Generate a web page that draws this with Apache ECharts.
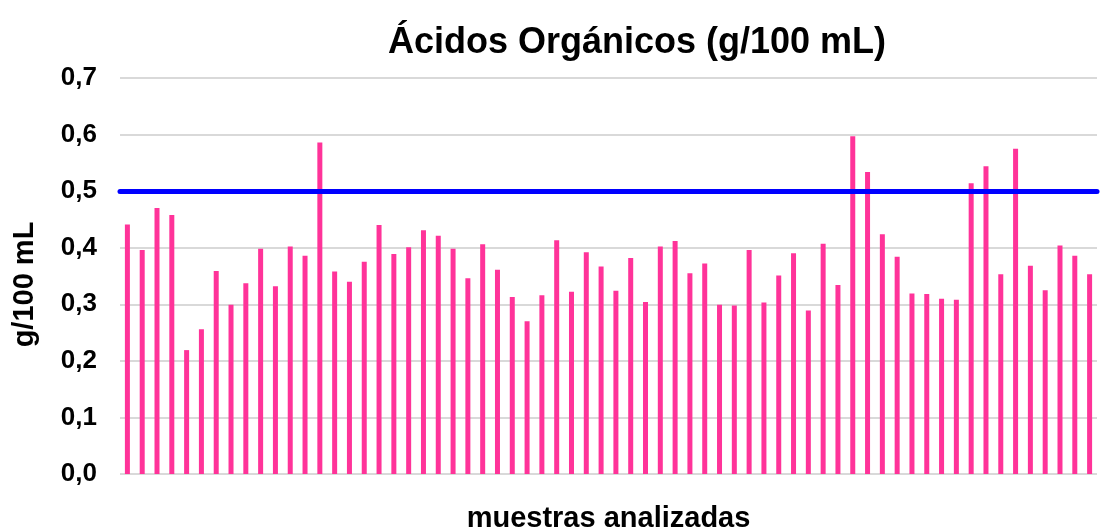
<!DOCTYPE html>
<html>
<head>
<meta charset="utf-8">
<script src="https://cdn.jsdelivr.net/npm/echarts@6/dist/echarts.min.js"></script>
<style>
  html, body { margin: 0; padding: 0; background: #fff; }
  #chart { width: 1100px; height: 531px; }
</style>
</head>
<body>
<div id="chart"></div>
<script>
// valores (g/100 mL), una barra por muestra
let acidos = [
    0.441, 0.396, 0.470, 0.458, 0.219, 0.256, 0.359, 0.299, 0.337, 0.398,
    0.332, 0.402, 0.386, 0.586, 0.358, 0.340, 0.375, 0.440, 0.389, 0.401,
    0.431, 0.421, 0.398, 0.346, 0.406, 0.361, 0.313, 0.270, 0.316, 0.413,
    0.322, 0.392, 0.367, 0.324, 0.382, 0.304, 0.402, 0.412, 0.355, 0.372,
    0.299, 0.298, 0.396, 0.303, 0.351, 0.390, 0.289, 0.407, 0.334, 0.597,
    0.534, 0.424, 0.384, 0.319, 0.318, 0.310, 0.308, 0.514, 0.544, 0.353,
    0.575, 0.368, 0.325, 0.404, 0.386, 0.353
];
let muestras = acidos.map((v, i) => 'M' + (i + 1));
let limite = 0.5;

let fuente = 'Liberation Sans, Arial';

let chart = echarts.init(document.getElementById('chart'));
let option = {
    animation: false,
    title: {
        text: 'Ácidos Orgánicos (g/100 mL)',
        left: 632,
        top: 20,
        textAlign: 'center',
        textStyle: {
            fontFamily: fuente,
            fontSize: 36,
            fontWeight: 'bold',
            color: '#000'
        }
    },
    grid: { left: 120, right: 3, top: 78, bottom: 57, outerBoundsMode: 'none' },
    xAxis: {
        type: 'category',
        data: muestras,
        name: 'muestras analizadas',
        nameLocation: 'middle',
        nameGap: 30,
        nameTextStyle: {
            fontFamily: fuente,
            fontSize: 29,
            fontWeight: 'bold',
            color: '#000'
        },
        axisLine: { show: false },
        axisTick: { show: false },
        axisLabel: { show: false }
    },
    yAxis: {
        type: 'value',
        min: 0,
        max: 0.7,
        interval: 0.1,
        name: 'g/100 mL',
        nameLocation: 'middle',
        nameGap: 81,
        nameTextStyle: {
            fontFamily: fuente,
            fontSize: 29,
            fontWeight: 'bold',
            color: '#000',
            padding: [0, 17, 0, 0]
        },
        axisLabel: {
            fontFamily: fuente,
            fontSize: 26,
            fontWeight: 'bold',
            color: '#000',
            margin: 23,
            formatter: v => v.toFixed(1).replace('.', ',')
        },
        splitLine: { lineStyle: { color: '#d9d9d9', width: 2 } }
    },
    series: [
        {
            type: 'bar',
            data: acidos,
            barWidth: 5,
            itemStyle: { color: '#ff3399' },
            markLine: {
                silent: true,
                symbol: 'none',
                label: { show: false },
                lineStyle: { color: '#0000ff', width: 5, type: 'solid', cap: 'round' },
                data: [{ yAxis: limite }]
            }
        }
    ]
};
chart.setOption(option);
</script>
</body>
</html>
